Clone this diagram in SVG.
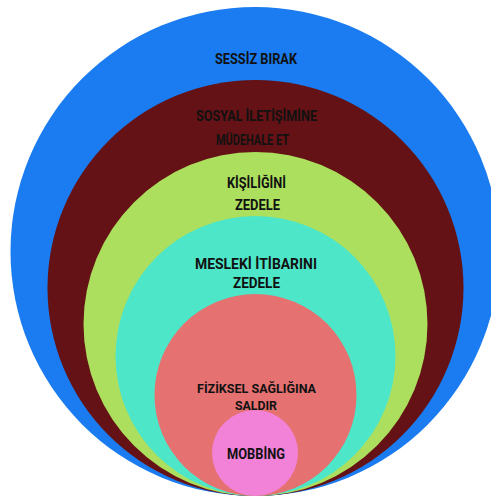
<svg xmlns="http://www.w3.org/2000/svg" width="491" height="498" viewBox="0 0 491 498">
  <style>
    .lbl { font-family: Roboto, "Liberation Sans", sans-serif; font-weight: 700; font-size: 14.5px; fill: #111; text-anchor: middle; }
    .sm { font-size: 13.5px; }
  </style>
  <rect width="491" height="498" fill="#ffffff"/>
  <!-- nested rings, outermost first, all touching near the bottom -->
  <g id="sessiz-birak">
    <circle cx="255" cy="251.5" r="244.5" fill="#1a7cf0"/>
    <text class="lbl" x="256" y="63.5" textLength="82" lengthAdjust="spacingAndGlyphs">SESSİZ BIRAK</text>
  </g>
  <g id="sosyal-iletisim">
    <circle cx="255.5" cy="288" r="208" fill="#641215"/>
    <text class="lbl" x="256.5" y="121" textLength="121" lengthAdjust="spacingAndGlyphs">SOSYAL İLETİŞİMİNE</text>
    <text class="lbl" x="252.5" y="144.5" textLength="73" lengthAdjust="spacingAndGlyphs">MÜDEHALE ET</text>
  </g>
  <g id="kisiligini-zedele">
    <circle cx="255.5" cy="324" r="172" fill="#acdf5e"/>
    <text class="lbl" x="256.5" y="187.5" textLength="59" lengthAdjust="spacingAndGlyphs">KİŞİLİĞİNİ</text>
    <text class="lbl" x="257.5" y="209.5" textLength="45" lengthAdjust="spacingAndGlyphs">ZEDELE</text>
  </g>
  <g id="mesleki-itibar">
    <circle cx="255.5" cy="356" r="140" fill="#4ee6c8"/>
    <text class="lbl" x="256" y="268.5" textLength="122" lengthAdjust="spacingAndGlyphs">MESLEKİ İTİBARINI</text>
    <text class="lbl" x="256.5" y="287.5" textLength="47" lengthAdjust="spacingAndGlyphs">ZEDELE</text>
  </g>
  <g id="fiziksel-saglik">
    <circle cx="255.5" cy="395" r="101" fill="#e57171"/>
    <text class="lbl sm" x="256.5" y="393" textLength="119" lengthAdjust="spacingAndGlyphs">FİZİKSEL SAĞLIĞINA</text>
    <text class="lbl sm" x="256" y="409.5" textLength="42" lengthAdjust="spacingAndGlyphs">SALDIR</text>
  </g>
  <g id="mobbing">
    <circle cx="255" cy="453" r="43" fill="#f281d8"/>
    <text class="lbl" x="256" y="458.5" textLength="58" lengthAdjust="spacingAndGlyphs">MOBBİNG</text>
  </g>
</svg>
